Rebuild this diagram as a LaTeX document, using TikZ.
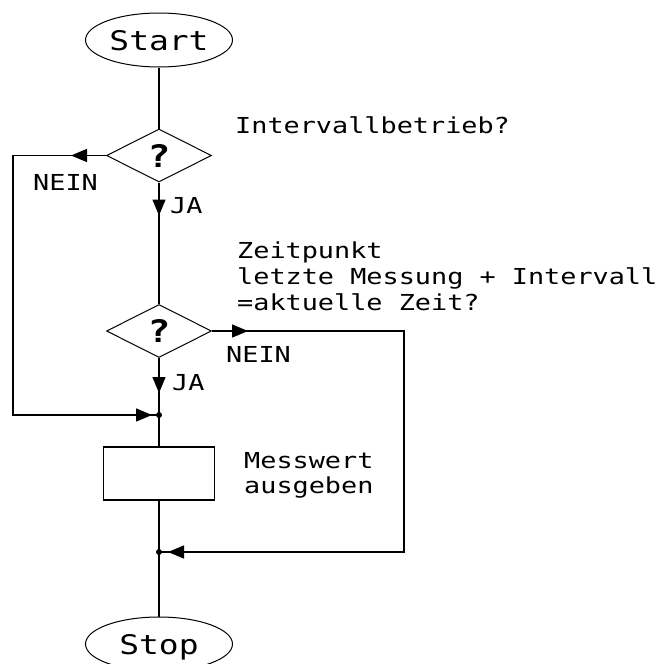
\documentclass[tikz,border=0pt]{standalone}
\usepackage{fontspec}
\newfontfamily\chartfont[FakeStretch=1.22]{DejaVu Sans Mono}
\newcommand\lblfont{\chartfont\fontsize{22}{26}\selectfont}
\newcommand\bigchartfont{\chartfont\fontsize{27}{32}\selectfont}
\usetikzlibrary{shapes.geometric,arrows.meta,decorations.markings}

\tikzset{
  flow/.style={line width=1.5pt},
  term/.style={ellipse, draw, line width=1pt, minimum width=147pt, minimum height=54pt,
    inner sep=0pt, text height=20pt, text depth=0pt, font=\bigchartfont},
  decision/.style={diamond, draw, line width=1pt, minimum width=105pt, minimum height=53pt,
    inner sep=0pt, font=\chartfont\bfseries\fontsize{31}{32}\selectfont},
  process/.style={rectangle, draw, line width=1.5pt, minimum width=111pt, minimum height=53pt, inner sep=0pt},
  lbl/.style={inner sep=0pt, anchor=base west, font=\lblfont},
  arrowat/.style={postaction={decorate, decoration={markings,
    mark=at position #1 with {\arrow{Triangle[length=16pt,width=13pt]}}}}},
  junction/.style={circle, fill, inner sep=0pt, minimum size=6pt}
}

\begin{document}
\begin{tikzpicture}[x=1pt,y=-1pt]
\useasboundingbox (0,0) rectangle (670,664);

% flow elements
\node[term] (start) at (159,40) {Start};
\node[decision] (d1) at (159,155.5) {?};
\node[decision] (d2) at (159,331) {?};
\node[process] (box) at (159,473.5) {};
\node[term] (stop) at (159,644) {Stop};

% junctions and corners of the loops
\node[junction] (j1) at (159,415) {};
\node[junction] (j2) at (159,552) {};
\coordinate (c1) at (13,155.5);
\coordinate (c2) at (13,415);
\coordinate (c3) at (404,331);
\coordinate (c4) at (404,552);

% connectors
\draw[flow] (start) -- (d1);
\draw[flow, arrowat=35pt, arrowat=-7pt] (d1.west) -- (c1) -- (c2) -- (j1.center);
\draw[flow, arrowat=33pt] (d1) -- (d2);
\draw[flow, arrowat=36pt, arrowat=-9pt] (d2.east) -- (c3) -- (c4) -- (j2.center);
\draw[flow, arrowat=35pt] (d2) -- (j1.center);
\draw[flow] (j1.center) -- (box);
\draw[flow] (box) -- (j2.center) -- (stop);

% labels
\node[lbl] (q1) at (235,133) {Intervallbetrieb?};
\node[lbl] (q2a) at (237,258) {Zeitpunkt};
\node[lbl] (q2b) at (237,284) {letzte Messung + Intervall};
\node[lbl] (q2c) at (237,310) {=aktuelle Zeit?};
\node[lbl] (no1) at (33,190) {NEIN};
\node[lbl] (yes1) at (170,213) {JA};
\node[lbl] (no2) at (226,362) {NEIN};
\node[lbl] (yes2) at (172,390) {JA};
\node[lbl] (out1) at (244,468) {Messwert};
\node[lbl] (out2) at (244,493) {ausgeben};
\end{tikzpicture}
\end{document}
